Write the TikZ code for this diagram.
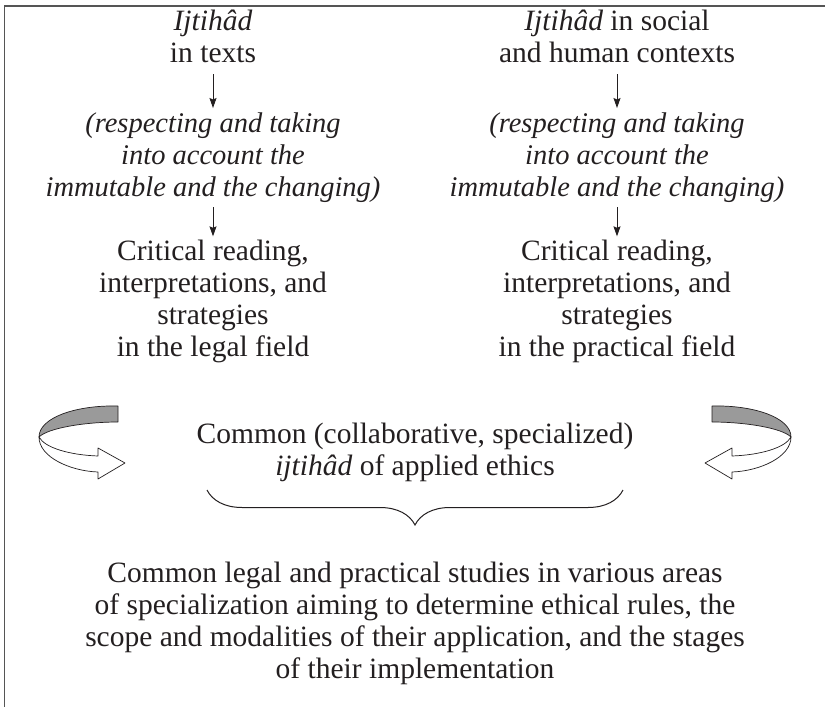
\documentclass[tikz,border=0pt]{standalone}
\usepackage{fontspec}
\setmainfont{Liberation Serif}
\usetikzlibrary{arrows.meta,decorations.pathreplacing}
\definecolor{ink}{HTML}{231F20}
\definecolor{band}{HTML}{9A9A9A}
\definecolor{framec}{HTML}{555555}
\begin{document}
\begin{tikzpicture}[x=1pt,y=-1pt,
  txt/.style={align=center, inner sep=0pt, anchor=base, text=ink, font=\fontsize{29.5}{32}\selectfont},
  itx/.style={txt, font=\fontsize{28.5}{32}\selectfont\itshape},
  con/.style={draw=ink, line width=0.9pt, -{Stealth[length=10pt,width=7pt,inset=1.5pt]}},
  framel/.style={draw=framec, line width=1.5pt},
  turn/.style={draw=ink, line width=0.7pt, line join=round}]
\useasboundingbox (0,0) rectangle (825,707);
\draw[framel] (4.3,707) -- (4.3,6) -- (825,6);
% left column (anchor = baseline of last line)
\node[txt] (lt) at (213,62) {\textit{Ijtihâd}\\in texts};
\node[itx] (lm) at (213,196) {(respecting and taking\\into account the\\immutable and the changing)};
\node[txt] (lb) at (213,356) {Critical reading,\\interpretations, and\\strategies\\in the legal field};
% right column
\node[txt] (rt) at (617,62) {\textit{Ijtihâd} in social\\and human contexts};
\node[itx] (rm) at (617,196) {(respecting and taking\\into account the\\immutable and the changing)};
\node[txt] (rb) at (617,356) {Critical reading,\\interpretations, and\\strategies\\in the practical field};
% common
\node[txt] (cm) at (415,475) {Common (collaborative, specialized)\\\textit{ijtihâd} of applied ethics};
\node[txt] (bt) at (415,678) {Common legal and practical studies in various areas\\of specialization aiming to determine ethical rules, the\\scope and modalities of their application, and the stages\\of their implementation};
% arrows
\draw[con, shorten <=12pt, shorten >=4pt] (lt.south) -- (lm.north);
\draw[con, shorten <=5pt, shorten >=3pt] (lm.south) -- (lb.north);
\draw[con, shorten <=12pt, shorten >=4pt] (rt.south) -- (rm.north);
\draw[con, shorten <=5pt, shorten >=3pt] (rm.south) -- (rb.north);
% brace
\coordinate (brR) at (623,490);
\coordinate (brL) at (207,490);
\draw[draw=ink, line width=1pt, decorate, decoration={brace, amplitude=35pt}] (brR) -- (brL);
% turning arrows
\foreach \s/\xs in {1/0, -1/830} {
\begin{scope}[shift={(\xs,0)}, xscale=\s]
  \filldraw[turn, fill=band] (118,406) .. controls (75,405) and (39,418) .. (39,437)
     .. controls (48,428) and (85,422) .. (118,422) -- cycle;
  \filldraw[turn, fill=white] (39,437) .. controls (39,457) and (70,471) .. (98,472)
     -- (98,479) -- (125,463) -- (98,448) -- (98,456)
     .. controls (70,455) and (45,448) .. (39,437) -- cycle;
\end{scope}
}
\end{tikzpicture}
\end{document}
